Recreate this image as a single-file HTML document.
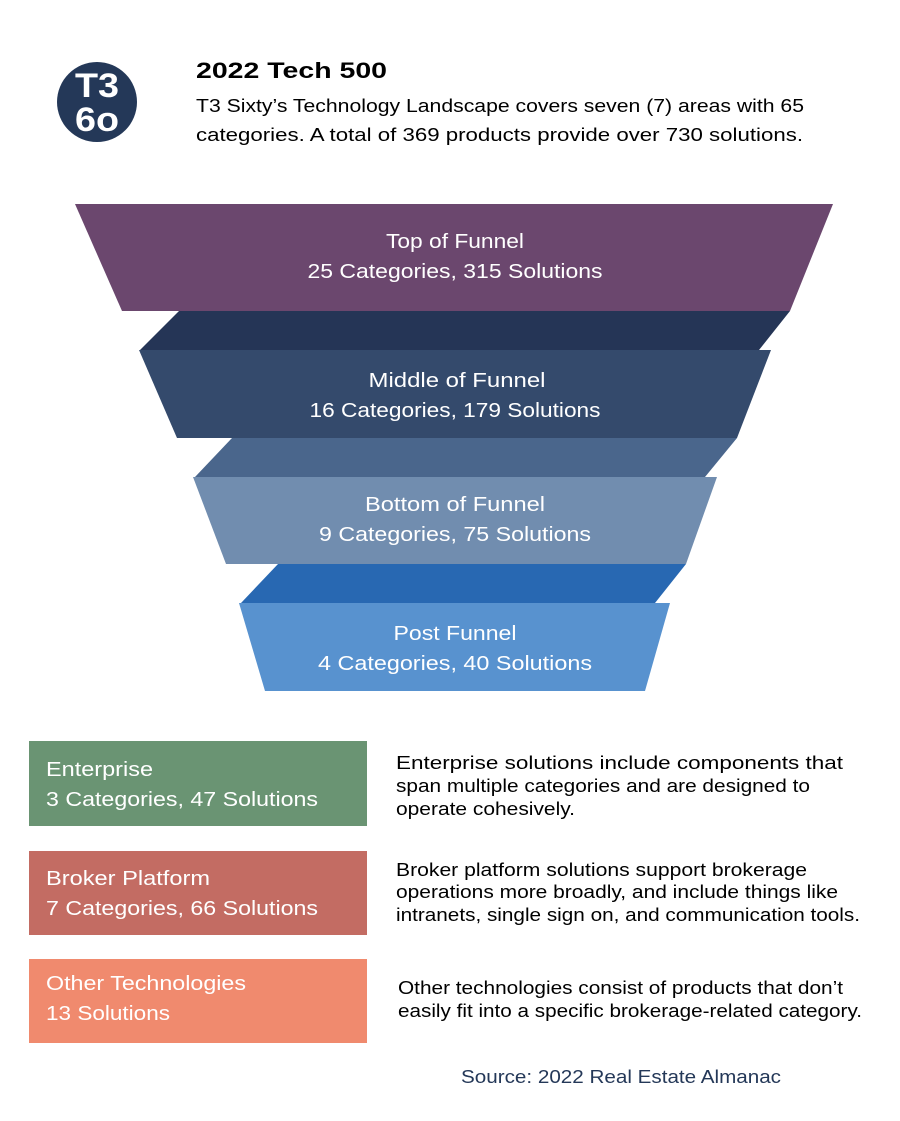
<!DOCTYPE html>
<html><head><meta charset="utf-8"><style>
html,body{margin:0;padding:0;background:#fff;}
svg{display:block;}
text{font-family:"Liberation Sans",sans-serif;}
</style></head><body>
<svg width="900" height="1121" viewBox="0 0 900 1121" xmlns="http://www.w3.org/2000/svg">
<rect width="900" height="1121" fill="#fff"/>
<circle cx="97" cy="102" r="40" fill="#243858"/>
<text x="97" y="97" font-size="34" font-weight="bold" fill="#fff" text-anchor="middle" textLength="44" lengthAdjust="spacingAndGlyphs">T3</text>
<text x="97" y="131" font-size="34" font-weight="bold" fill="#fff" text-anchor="middle" textLength="44" lengthAdjust="spacingAndGlyphs">6o</text>
<text x="196" y="78" font-size="22" font-weight="bold" fill="#000" textLength="191" lengthAdjust="spacingAndGlyphs">2022 Tech 500</text>
<g font-size="18" fill="#000">
<text x="196" y="112" textLength="608" lengthAdjust="spacingAndGlyphs">T3 Sixty’s Technology Landscape covers seven (7) areas with 65</text>
<text x="196" y="141" textLength="607" lengthAdjust="spacingAndGlyphs">categories. A total of 369 products provide over 730 solutions.</text>
</g>
<polygon points="75,204 833,204 790,311 122,311" fill="#6b476e"/>
<polygon points="179,311 790,311 759,350 140,350" fill="#253556"/>
<polygon points="139,350 771,350 737,438 177,438" fill="#344a6c"/>
<polygon points="232,438 737,438 705,477 195,477" fill="#4a668c"/>
<polygon points="193,477 717,477 686,564 226,564" fill="#718daf"/>
<polygon points="278,564 686,564 655,603 241,603" fill="#2868b2"/>
<polygon points="239,603 670,603 645,691 265,691" fill="#5892cf"/>
<g font-size="20" fill="#fff" text-anchor="middle">
<text x="455" y="248" textLength="138" lengthAdjust="spacingAndGlyphs">Top of Funnel</text>
<text x="455" y="278" textLength="295" lengthAdjust="spacingAndGlyphs">25 Categories, 315 Solutions</text>
<text x="457" y="387" textLength="177" lengthAdjust="spacingAndGlyphs">Middle of Funnel</text>
<text x="455" y="417" textLength="291" lengthAdjust="spacingAndGlyphs">16 Categories, 179 Solutions</text>
<text x="455" y="511" textLength="180" lengthAdjust="spacingAndGlyphs">Bottom of Funnel</text>
<text x="455" y="541" textLength="272" lengthAdjust="spacingAndGlyphs">9 Categories, 75 Solutions</text>
<text x="455" y="640" textLength="123" lengthAdjust="spacingAndGlyphs">Post Funnel</text>
<text x="455" y="670" textLength="274" lengthAdjust="spacingAndGlyphs">4 Categories, 40 Solutions</text>
</g>
<rect x="29" y="741" width="338" height="85" fill="#6a9473"/>
<rect x="29" y="851" width="338" height="84" fill="#c36c63"/>
<rect x="29" y="959" width="338" height="84" fill="#f08a6e"/>
<g font-size="20" fill="#fff">
<text x="46" y="776" textLength="107" lengthAdjust="spacingAndGlyphs">Enterprise</text>
<text x="46" y="806" textLength="272" lengthAdjust="spacingAndGlyphs">3 Categories, 47 Solutions</text>
<text x="46" y="885" textLength="164" lengthAdjust="spacingAndGlyphs">Broker Platform</text>
<text x="46" y="915" textLength="272" lengthAdjust="spacingAndGlyphs">7 Categories, 66 Solutions</text>
<text x="46" y="990" textLength="200" lengthAdjust="spacingAndGlyphs">Other Technologies</text>
<text x="46" y="1020" textLength="124" lengthAdjust="spacingAndGlyphs">13 Solutions</text>
</g>
<g font-size="18" fill="#000">
<text x="396" y="769" textLength="447" lengthAdjust="spacingAndGlyphs">Enterprise solutions include components that</text>
<text x="396" y="792" textLength="414" lengthAdjust="spacingAndGlyphs">span multiple categories and are designed to</text>
<text x="396" y="815" textLength="179" lengthAdjust="spacingAndGlyphs">operate cohesively.</text>
<text x="396" y="876" textLength="411" lengthAdjust="spacingAndGlyphs">Broker platform solutions support brokerage</text>
<text x="396" y="898" textLength="442" lengthAdjust="spacingAndGlyphs">operations more broadly, and include things like</text>
<text x="396" y="921" textLength="464" lengthAdjust="spacingAndGlyphs">intranets, single sign on, and communication tools.</text>
<text x="398" y="994" textLength="445" lengthAdjust="spacingAndGlyphs">Other technologies consist of products that don’t</text>
<text x="398" y="1017" textLength="464" lengthAdjust="spacingAndGlyphs">easily fit into a specific brokerage-related category.</text>
</g>
<text x="461" y="1083" font-size="18" fill="#243858" textLength="320" lengthAdjust="spacingAndGlyphs">Source: 2022 Real Estate Almanac</text>
</svg>
</body></html>
